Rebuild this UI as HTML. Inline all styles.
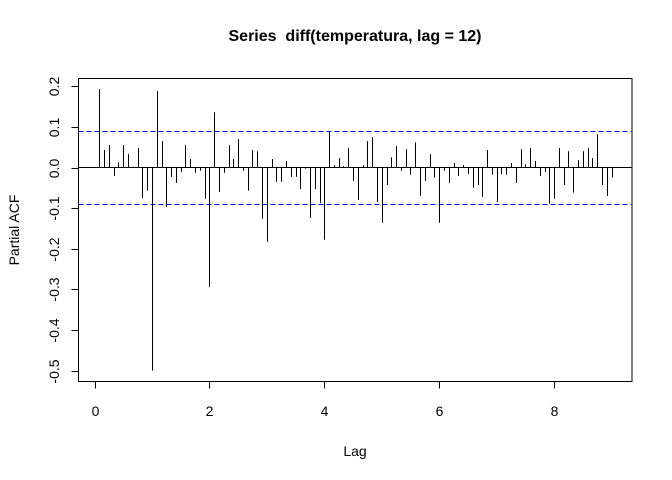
<!DOCTYPE html>
<html><head><meta charset="utf-8"><style>
body{margin:0;background:#fff}
svg{display:block;font-family:"Liberation Sans",Arial,sans-serif}
</style></head><body>
<svg id="chart" width="672" height="480" viewBox="0 0 672 480" xmlns="http://www.w3.org/2000/svg">
<rect width="672" height="480" fill="#fff"/>
<text x="355" y="41" text-anchor="middle" font-size="16" font-weight="bold">Series&#160; diff(temperatura, lag = 12)</text>
<text x="355" y="456" text-anchor="middle" font-size="14">Lag</text>
<text x="19" y="230" text-anchor="middle" font-size="14" transform="rotate(-90 19 230)">Partial ACF</text>
<rect x="78.5" y="78.5" width="553.5" height="303" fill="none" stroke="#000" stroke-width="1"/>
<g id="marks"></g>
</svg>
<script>
const pacfValues=[0.193,0.043,0.055,-0.021,0.013,0.055,0.033,0.002,0.048,-0.075,-0.057,-0.50,
0.188,0.065,-0.097,-0.023,-0.038,-0.011,0.055,0.021,-0.013,-0.008,-0.077,-0.294,
0.136,-0.060,-0.013,0.055,0.021,0.070,-0.008,-0.057,0.043,0.040,-0.126,-0.183,
0.021,-0.035,-0.035,0.016,-0.023,-0.023,-0.053,-0.003,-0.124,-0.053,-0.087,-0.178,
0.089,0.006,0.023,0.003,0.048,-0.033,-0.080,0.006,0.065,0.075,-0.085,-0.136,
-0.043,0.025,0.053,-0.008,0.045,-0.018,0.062,-0.070,-0.033,0.033,-0.025,-0.136,
-0.008,-0.038,0.011,-0.021,0.006,-0.016,-0.050,-0.043,-0.072,0.043,-0.018,-0.085,
-0.016,-0.018,0.011,-0.038,0.045,0.008,0.048,0.016,-0.021,-0.011,-0.089,-0.077,
0.048,-0.043,0.040,-0.062,0.018,0.040,0.048,0.023,0.082,-0.043,-0.070,-0.025];
const xTicks=[0,2,4,6,8];
const yTicks=[0.2,0.1,0.0,-0.1,-0.2,-0.3,-0.4,-0.5];
const ciLimit=0.09;
const freq=12;
const X=v=>94.5+v*57.45;
const Y=v=>167.5-v*406;
const NS="http://www.w3.org/2000/svg";
const g=document.getElementById('marks');
function mk(tag,attrs){const e=document.createElementNS(NS,tag);for(const k in attrs)e.setAttribute(k,attrs[k]);g.appendChild(e);return e;}
let z=mk('line',{x1:78.5,x2:632,y1:Y(0),y2:Y(0),stroke:'#000','stroke-width':1});


[ciLimit,-ciLimit].forEach((c,i)=>{
 const l=mk('line',{x1:78.5,x2:632,y1:Math.round(Y(c))+0.5,y2:Math.round(Y(c))+0.5,stroke:'#0000ff','stroke-width':1,'stroke-dasharray':'5,3'});
 
 
});
pacfValues.forEach((v,i)=>{
 const x=Math.round(X((i+1)/freq))+0.5;
 const b=mk('line',{x1:x,x2:x,y1:Y(0),y2:Y(v),stroke:'#000','stroke-width':1});
 
 
});
const xa=mk('line',{x1:X(0),x2:X(8),y1:381.5,y2:381.5,stroke:'#000'});


xTicks.forEach(t=>{
 const x=Math.round(X(t))+0.5;
 const tk=mk('line',{x1:x,x2:x,y1:381.5,y2:388.5,stroke:'#000'});
 
 
 const tx=mk('text',{x:x,y:416,'text-anchor':'middle','font-size':14});
 tx.textContent=t;
 
 
});
const ya=mk('line',{x1:78.5,x2:78.5,y1:Y(0.2),y2:Y(-0.5),stroke:'#000'});


yTicks.forEach(t=>{
 const y=Math.round(Y(t))+0.5;
 const tk=mk('line',{x1:71.5,x2:78.5,y1:y,y2:y,stroke:'#000'});
 
 
 const tx=mk('text',{x:0,y:0,'text-anchor':'middle','font-size':14,transform:`translate(59 ${y}) rotate(-90)`});
 tx.textContent=t.toFixed(1);
 
 
});
</script>
</body></html>
